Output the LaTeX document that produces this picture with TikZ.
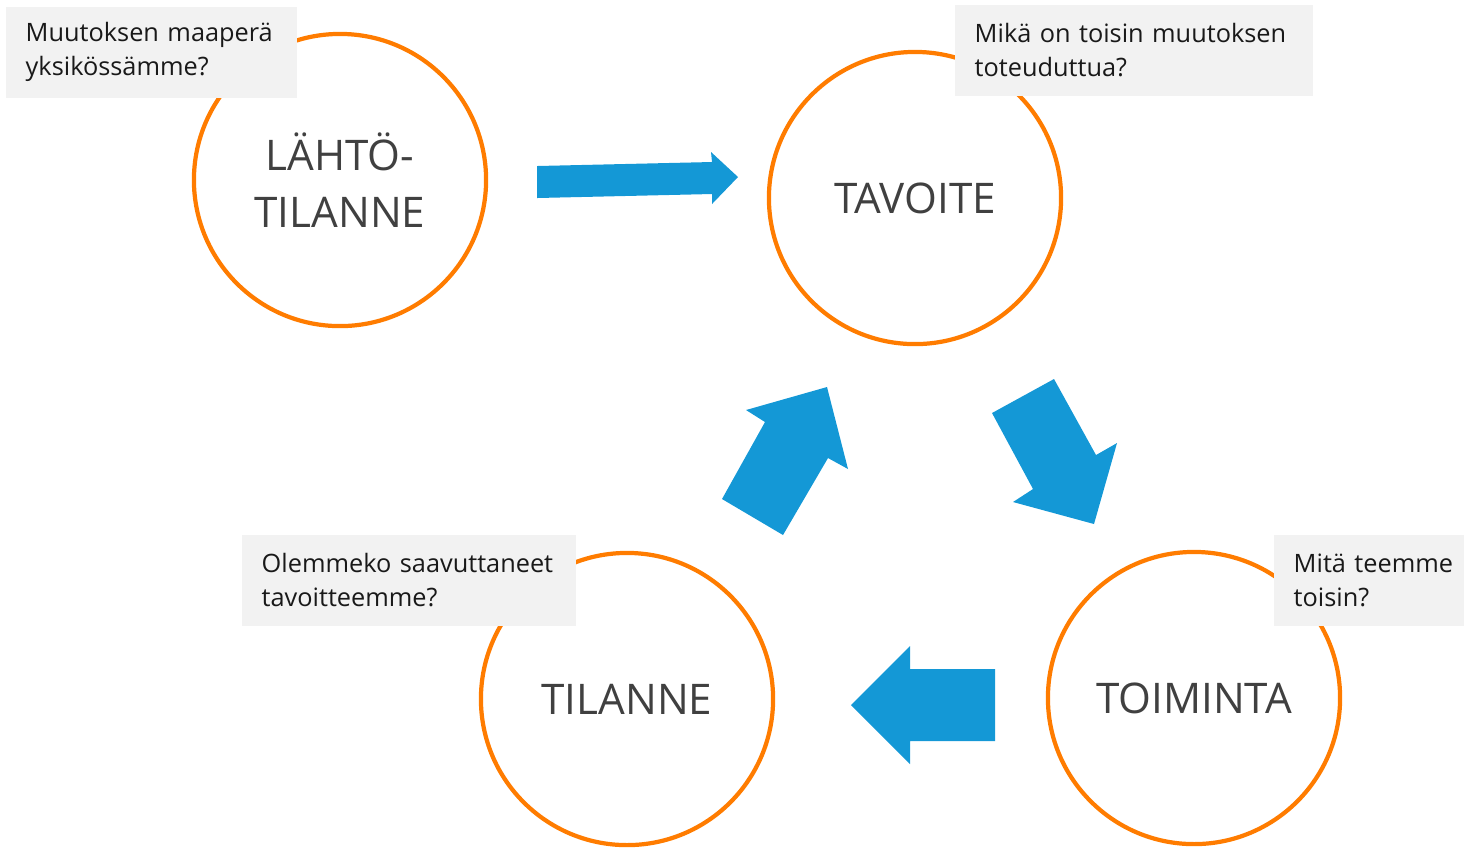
\documentclass[tikz,border=0pt]{standalone}
\usepackage{fontspec}
\setmainfont{Open Sans}
\definecolor{oranssi}{RGB}{255,124,0}
\definecolor{sininen}{RGB}{20,152,214}
\definecolor{harmaa}{RGB}{242,242,242}
\definecolor{tumma}{RGB}{64,64,64}
\begin{document}
\begin{tikzpicture}[x=0.01cm,y=-0.01cm,
  vaihe/.style={circle,draw=oranssi,line width=1.2pt,fill=white,minimum size=2.92cm,inner sep=0pt,
    align=center,text=tumma,font=\fontsize{12}{16.2}\selectfont},
  kysymys/.style={fill=harmaa,anchor=north west,minimum height=0.91cm,inner xsep=0.2cm,inner ysep=0pt,
    align=left,text=black!90,font=\fontsize{7.2}{9.7}\selectfont}]
\useasboundingbox (0,0) rectangle (1464,847);
\node[vaihe] (lahto) at (340,180) {LÄHTÖ-\\TILANNE};
\node[vaihe] (tavoite) at (915,198) {TAVOITE};
\node[vaihe] (toiminta) at (1194,698) {TOIMINTA};
\node[vaihe] (tilanne) at (627,699) {TILANNE};
\node[kysymys,text width=2.51cm] (q1) at (5,6) {Muutoksen maaperä\\yksikössämme?};
\node[kysymys,text width=3.18cm] (q2) at (954,4) {Mikä on toisin muutoksen\\toteuduttua?};
\node[kysymys,text width=2.94cm] (q3) at (241,534) {Olemmeko saavuttaneet\\tavoitteemme?};
\node[kysymys,text width=1.64cm] (q4) at (1273,534) {Mitä teemme\\toisin?};
\fill[sininen] (537,166) -- (712,162) -- (711,152) -- (738,177) -- (712,204) -- (712,194) -- (537,198) -- cycle;
\fill[sininen] (992,413) -- (1054,379) -- (1096,455) -- (1117,443) -- (1094,524) -- (1013,502) -- (1033,489) -- cycle;
\fill[sininen] (851,705) -- (910,646) -- (910,669) -- (995,669) -- (995,741) -- (910,741) -- (910,764) -- cycle;
\fill[sininen] (722,499) -- (765,422) -- (746,410) -- (827,387) -- (848,469) -- (828,458) -- (783,535) -- cycle;
\end{tikzpicture}
\end{document}
